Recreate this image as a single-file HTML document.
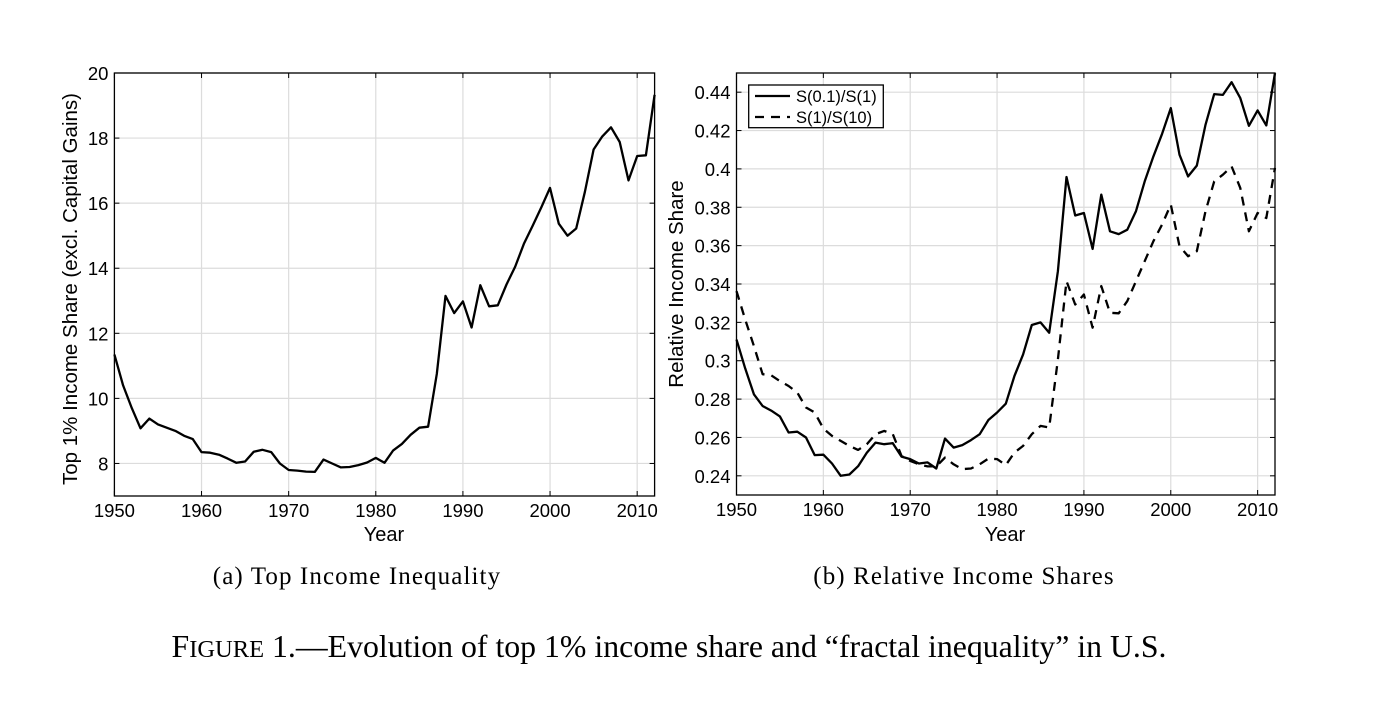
<!DOCTYPE html>
<html><head><meta charset="utf-8"><style>
body{margin:0;background:#fff}
svg text{font-family:"Liberation Sans",Arial,sans-serif;fill:#000}
</style></head><body>
<svg id="s" width="1390" height="696" viewBox="0 0 1390 696" xmlns="http://www.w3.org/2000/svg">
<text x="357" y="584" font-size="25" text-anchor="middle" style="font-family:'Liberation Serif',serif" letter-spacing="1.1">(a)  Top Income Inequality</text>
<text x="964" y="584" font-size="25" text-anchor="middle" style="font-family:'Liberation Serif',serif" letter-spacing="1.1">(b)  Relative Income Shares</text>
<text x="669" y="657" font-size="31.8" text-anchor="middle" style="font-family:'Liberation Serif',serif">F<tspan font-size="24.5">IGURE</tspan> 1.—Evolution of top 1% income share and “fractal inequality” in U.S.</text>
<text transform="translate(77,289) rotate(-90)" font-size="20.5" text-anchor="middle">Top 1% Income Share (excl. Capital Gains)</text>
<text transform="translate(683,284) rotate(-90)" font-size="20.5" text-anchor="middle">Relative Income Share</text>
<text x="384" y="541" font-size="20" text-anchor="middle">Year</text>
<text x="1005" y="541" font-size="20" text-anchor="middle">Year</text>
</svg>
<script>
var NS="http://www.w3.org/2000/svg",s=document.getElementById('s');
function el(t,a,txt){var e=document.createElementNS(NS,t);for(var k in a)e.setAttribute(k,a[k]);if(txt!=null)e.textContent=txt;s.appendChild(e);return e;}
function axes(L,R,T,B,x0,x1,y0,y1,yt,fmt,series){
 var X=function(v){return L+(v-x0)/(x1-x0)*(R-L)},Y=function(v){return B-(v-y0)/(y1-y0)*(B-T)};
 for(var yr=1960;yr<=2010;yr+=10)el('line',{x1:X(yr),x2:X(yr),y1:T,y2:B,stroke:'#dcdcdc','stroke-width':1.2});
 yt.forEach(function(v){el('line',{x1:L,x2:R,y1:Y(v),y2:Y(v),stroke:'#dcdcdc','stroke-width':1.2});});
 for(var yr=1950;yr<=2010;yr+=10){var x=X(yr);el('line',{x1:x,x2:x,y1:B,y2:B-5,stroke:'#000'});el('line',{x1:x,x2:x,y1:T,y2:T+5,stroke:'#000'});el('text',{x:x,y:B+21,'font-size':18.5,'text-anchor':'middle'},yr);}
 yt.forEach(function(v){var y=Y(v);el('line',{x1:L,x2:L+5,y1:y,y2:y,stroke:'#000'});el('line',{x1:R,x2:R-5,y1:y,y2:y,stroke:'#000'});el('text',{x:L-6,y:y+7,'font-size':18.5,'text-anchor':'end'},fmt(v));});
 series.forEach(function(sr){var d='';sr.d.forEach(function(v,i){d+=(i?'L':'M')+X(1950+i).toFixed(1)+','+Y(v).toFixed(1);});var a={d:d,fill:'none',stroke:'#000','stroke-width':2.3,'stroke-linejoin':'round'};if(sr.dash)a['stroke-dasharray']='9,7';el('path',a);});
 el('rect',{x:L,y:T,width:R-L,height:B-T,fill:'none',stroke:'#000','stroke-width':1.3});
}
var a=[11.35,10.4,9.7,9.08,9.38,9.2,9.1,9.0,8.85,8.75,8.35,8.33,8.27,8.15,8.02,8.06,8.36,8.42,8.35,8.0,7.8,7.78,7.75,7.74,8.12,8.0,7.88,7.89,7.95,8.03,8.17,8.02,8.4,8.6,8.88,9.1,9.13,10.75,13.15,12.62,12.98,12.18,13.48,12.83,12.86,13.5,14.05,14.75,15.3,15.87,16.47,15.37,15.0,15.22,16.35,17.65,18.05,18.33,17.88,16.7,17.45,17.47,19.33];
axes(114.4,654.6,73,496,1950,2012,7,20,[8,10,12,14,16,18,20],function(v){return v},[{d:a}]);
var b=[0.311,0.296,0.2825,0.2764,0.274,0.271,0.2626,0.263,0.26,0.2508,0.251,0.2464,0.24,0.2407,0.245,0.252,0.2573,0.2565,0.257,0.25,0.2487,0.2464,0.247,0.2438,0.2594,0.2547,0.256,0.2586,0.2617,0.2691,0.273,0.2776,0.292,0.3033,0.3186,0.32,0.3146,0.3467,0.3958,0.3757,0.377,0.3583,0.3866,0.3675,0.366,0.3683,0.378,0.3935,0.4065,0.4183,0.4317,0.4074,0.3961,0.4017,0.423,0.439,0.4386,0.4452,0.4369,0.4225,0.4305,0.4227,0.45];
var c=[0.3363,0.3215,0.3077,0.293,0.2924,0.2894,0.2868,0.2834,0.2756,0.273,0.2646,0.2608,0.2582,0.2556,0.2535,0.2565,0.2617,0.2634,0.2617,0.2504,0.2478,0.246,0.2449,0.2449,0.2495,0.246,0.2435,0.2438,0.246,0.249,0.2487,0.2456,0.2521,0.2556,0.2617,0.266,0.2652,0.3007,0.3415,0.3293,0.3345,0.3172,0.3389,0.325,0.3247,0.3311,0.3415,0.3519,0.3623,0.371,0.3814,0.3597,0.3545,0.3571,0.3779,0.3935,0.397,0.4013,0.39,0.3675,0.377,0.3744,0.4005];
axes(736.5,1275,73,495,1950,2012,0.23,0.45,[0.24,0.26,0.28,0.3,0.32,0.34,0.36,0.38,0.4,0.42,0.44],function(v){return String(+v.toFixed(2))},[{d:c,dash:1},{d:b}]);
el('rect',{x:748.7,y:85,width:134.6,height:42.7,fill:'#fff',stroke:'#000','stroke-width':1.3});
el('line',{x1:755,x2:790,y1:96,y2:96,stroke:'#000','stroke-width':2.3});
el('line',{x1:755,x2:790,y1:117,y2:117,stroke:'#000','stroke-width':2.3,'stroke-dasharray':'9,7'});
el('text',{x:796,y:102,'font-size':16.5},'S(0.1)/S(1)');
el('text',{x:796,y:123,'font-size':16.5},'S(1)/S(10)');
</script>
</body></html>
